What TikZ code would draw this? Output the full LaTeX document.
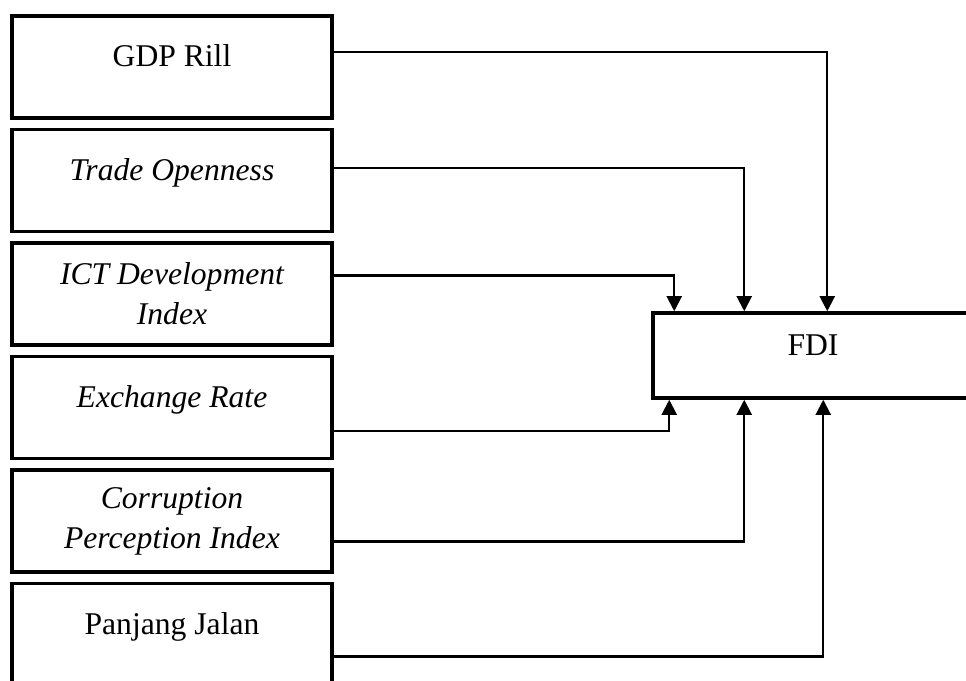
\documentclass[tikz,border=0pt]{standalone}
\usepackage{fontspec}
\setmainfont{Liberation Serif}
\usetikzlibrary{positioning,arrows.meta}
\tikzset{
  varbox/.style = {draw = black, line width = 2pt, outer sep = 0pt, inner sep = 0pt, minimum width = 6.4cm, minimum height = 2.04cm, align = center, font = \fontsize{18}{22.8}\selectfont},
  ital/.style = {font = \fontsize{18}{22.8}\selectfont\itshape},
  onerow/.style = {text height = 0.3cm, text depth = 0.3cm},
  arr/.style = {line width = 1.15pt, -{Triangle[length = 3mm, width = 3mm]}},
}
\begin{document}
\begin{tikzpicture}[node distance = 0.23cm]
\clip (0,0) rectangle (19.32,13.6);
% variables on the left
\node [varbox, onerow] (gdp) at (3.44,12.26) {GDP Rill};
\node [varbox, ital, onerow, below = of gdp] (trade) {Trade Openness};
\node [varbox, ital, below = of trade] (ict) {ICT Development\\Index};
\node [varbox, ital, onerow, below = of ict] (exch) {Exchange Rate};
\node [varbox, ital, below = of exch] (corr) {Corruption\\Perception Index};
\node [varbox, onerow, below = of corr] (road) {Panjang Jalan};
% dependent variable
\node [varbox, onerow, minimum height = 1.7cm, outer sep = 1pt] (fdi) at (16.26,6.49) {FDI};
\draw [arr] ([yshift = 3mm]gdp.east) -| ([xshift = 3.52cm]fdi.north west);
\draw [arr] ([yshift = 2.5mm]trade.east) -| ([xshift = 1.86cm]fdi.north west);
\draw [arr] ([yshift = 3.7mm]ict.east) -| ([xshift = 0.46cm]fdi.north west);
\draw [arr] ([yshift = -4.7mm]exch.east) -| ([xshift = 0.36cm]fdi.south west);
\draw [arr] ([yshift = -4.1mm]corr.east) -| ([xshift = 1.86cm]fdi.south west);
\draw [arr] ([yshift = -4.4mm]road.east) -| ([xshift = 3.44cm]fdi.south west);
\end{tikzpicture}
\end{document}
